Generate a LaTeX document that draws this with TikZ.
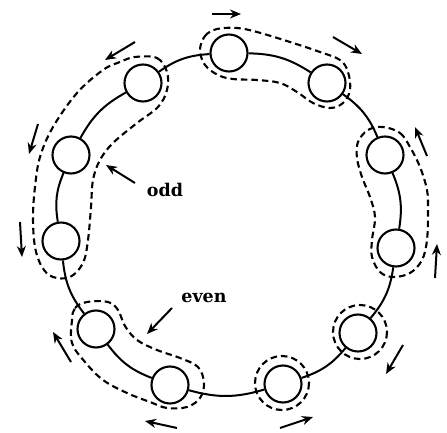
\documentclass[tikz,border=0pt]{standalone}
\usepackage{fontspec}
\newfontfamily\lblfont{DejaVu Serif}
\usetikzlibrary{arrows.meta}
\begin{document}
\begin{tikzpicture}[x=1pt,y=-1pt,
  ringnode/.style={circle,draw,line width=2.1pt,fill=white,inner sep=0pt,minimum size=37pt},
  ringline/.style={line width=2pt},
  groupline/.style={line width=2.1pt,dash pattern=on 6.5pt off 4pt},
  motion/.style={line width=2pt,-{Stealth[length=11pt,width=9pt,inset=3.5pt]}},
  lbl/.style={font=\lblfont\bfseries\fontsize{17.5}{19}\selectfont,inner sep=0pt}]
\useasboundingbox (0,0) rectangle (447,433);
% group contours
\draw[groupline] plot[smooth cycle,tension=0.6] coordinates {(200,50) (205,36) (217,29) (237,28) (257,32) (290,42) (320,52) (340,60) (348,72) (350,90) (343,103) (330,108) (313,103) (297,92) (280,83) (257,80) (233,79) (218,75) (205,65)};
\draw[groupline] plot[smooth cycle,tension=0.6] coordinates {(383,127) (400,133) (410,147) (420,167) (427,190) (428,210) (427,240) (422,260) (410,273) (393,277) (380,272) (372,257) (372,240) (375,217) (370,197) (362,177) (357,158) (358,142) (368,130)};
\draw[groupline] (360,332) circle[radius=27];
\draw[groupline] (282,383) circle[radius=27];
\draw[groupline] plot[smooth cycle,tension=0.6] coordinates {(72,320) (75,308) (87,302) (108,302) (118,310) (125,326) (137,340) (157,350) (180,358) (198,367) (204,383) (200,398) (187,407) (167,408) (150,402) (127,393) (103,380) (85,362) (72,343)};
\draw[groupline] plot[smooth cycle,tension=0.6] coordinates {(135,57) (157,58) (167,72) (167,90) (158,107) (137,123) (113,143) (100,160) (93,180) (91,207) (88,240) (83,263) (70,277) (53,277) (42,267) (35,247) (33,217) (35,187) (40,157) (53,127) (77,93) (103,70) (120,62)};
% ring nodes
\node[ringnode] (n1) at (229,53) {};
\node[ringnode] (n2) at (327,83) {};
\node[ringnode] (n3) at (385,155) {};
\node[ringnode] (n4) at (396,248) {};
\node[ringnode] (n5) at (358,333) {};
\node[ringnode] (n6) at (283,384) {};
\node[ringnode] (n7) at (170,385) {};
\node[ringnode] (n8) at (96,329) {};
\node[ringnode] (n9) at (61,241) {};
\node[ringnode] (n10) at (71,155) {};
\node[ringnode] (n11) at (143,83) {};
% ring connections
\draw[ringline] (n1) to[bend left=16] (n2);
\draw[ringline] (n2) to[bend left=16] (n3);
\draw[ringline] (n3) to[bend left=16] (n4);
\draw[ringline] (n4) to[bend left=16] (n5);
\draw[ringline] (n5) to[bend left=16] (n6);
\draw[ringline] (n6) to[bend left=16] (n7);
\draw[ringline] (n7) to[bend left=16] (n8);
\draw[ringline] (n8) to[bend left=16] (n9);
\draw[ringline] (n9) to[bend left=16] (n10);
\draw[ringline] (n10) to[bend left=16] (n11);
\draw[ringline] (n11) to[bend left=16] (n1);
% labels
\node[lbl] (odd) at (165,190) {odd};
\node[lbl] (even) at (204,298) {even};
% motion arrows
\coordinate (t1) at (212,14); \coordinate (h1) at (241,14);
\coordinate (t2) at (333,37); \coordinate (h2) at (362,54);
\coordinate (t3) at (427,156); \coordinate (h3) at (415,127);
\coordinate (t4) at (435,278); \coordinate (h4) at (437,244);
\coordinate (t5) at (403,345); \coordinate (h5) at (386,374);
\coordinate (t6) at (280,428); \coordinate (h6) at (313,417);
\coordinate (t7) at (177,428); \coordinate (h7) at (145,421);
\coordinate (t8) at (71,362); \coordinate (h8) at (53,332);
\coordinate (t9) at (20,222); \coordinate (h9) at (22,257);
\coordinate (t10) at (38,124); \coordinate (h10) at (29,154);
\coordinate (t11) at (135,42); \coordinate (h11) at (105,60);
\coordinate (to) at (135,183); \coordinate (ho) at (106,165);
\coordinate (te) at (172,308); \coordinate (he) at (147,334);
\foreach \i in {1,...,11} {\draw[motion] (t\i) -- (h\i);}
\draw[motion] (to) -- (ho);
\draw[motion] (te) -- (he);
\end{tikzpicture}
\end{document}
